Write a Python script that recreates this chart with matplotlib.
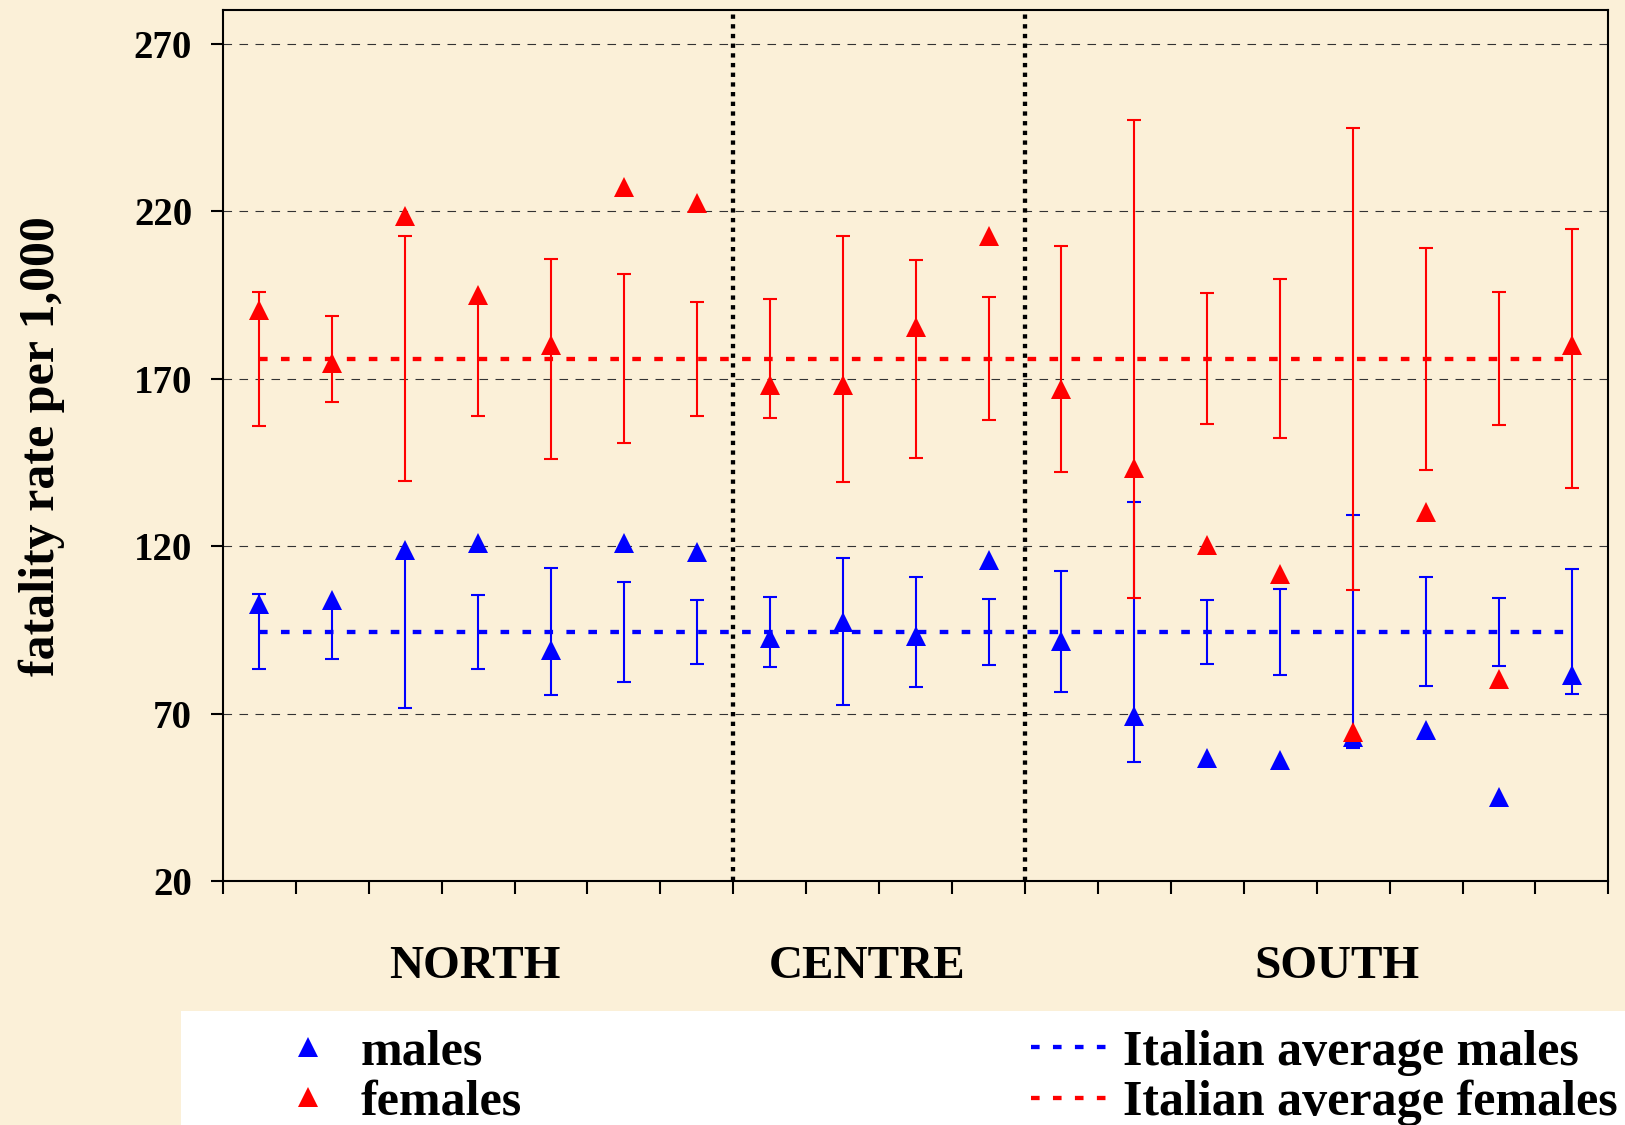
import matplotlib
matplotlib.use('Agg')
import matplotlib.pyplot as plt
import matplotlib.transforms as mtransforms
from matplotlib.lines import Line2D
from matplotlib.patches import Rectangle
from matplotlib.font_manager import FontProperties
import numpy as np

# ---------------- data ----------------
group_sizes = [7, 4, 8]                 # areas per macro-region
regions = ['NORTH', 'CENTRE', 'SOUTH']

males = [102.8, 104.0, 118.9, 121.0, 89.2, 121.0, 118.3,
         92.5, 97.3, 93.1, 116.0,
         91.7, 69.4, 56.8, 56.3, 63.0, 65.1, 45.3, 81.5]
females = [190.6, 174.8, 218.7, 195.0, 180.0, 227.4, 222.4,
           168.1, 168.1, 185.6, 212.6,
           167.0, 143.3, 120.4, 111.6, 64.6, 130.2, 80.4, 180.0]

# half-width of the 95% limits around the Italian average
males_ci = [11.2, 8.0, 22.9, 11.1, 18.9, 14.9, 9.6,
            10.4, 21.9, 16.4, 9.8,
            18.1, 38.8, 9.6, 12.9, 34.8, 16.3, 10.1, 18.7]
females_ci = [20.0, 12.9, 36.6, 17.1, 29.9, 25.2, 17.0,
              17.8, 36.7, 29.6, 18.4,
              33.8, 71.4, 19.5, 23.8, 69.0, 33.2, 19.9, 38.7]

avg_males = 94.5
avg_females = 176.0

yticks = [20, 70, 120, 170, 220, 270]
ylabel = 'fatality rate per 1,000'
legend_labels = ['males', 'females', 'Italian average males', 'Italian average females']

# ---------------- style ----------------
bg = '#FBF0D8'
blue = '#0000FF'
red = '#FF0000'
serif = 'Liberation Serif'

fig = plt.figure(figsize=(16.25, 11.25), dpi=100, facecolor=bg)
ax = fig.add_axes([0.1371, 0.2166, 0.8527, 0.7742])
ax.set_facecolor(bg)

n = len(males)
x = np.arange(n)

# grid
ax.set_ylim(20, 280)
ax.set_xlim(-0.5, n - 0.5)
ax.set_yticks(yticks)
ax.yaxis.grid(True, color='#333333', lw=0.8, linestyle=(0, (7.7, 6.7)), zorder=1)
ax.set_axisbelow(True)

# region separators
bounds = np.cumsum(group_sizes)[:-1] - 0.5
for b in bounds:
    ax.axvline(b, color='black', lw=3.1, linestyle=(0, (1.0, 1.25)),
               dash_capstyle='butt', zorder=2)

# error bars (limits around the national averages)
ax.errorbar(x, [avg_males] * n, yerr=males_ci, fmt='none', ecolor=blue,
            elinewidth=1.5, capsize=5, capthick=1.5, zorder=3)
ax.errorbar(x, [avg_females] * n, yerr=females_ci, fmt='none', ecolor=red,
            elinewidth=1.5, capsize=5, capthick=1.5, zorder=3.1)

# national averages
ax.plot([x[0], x[-1]], [avg_males] * 2, color=blue, lw=3.1,
        dashes=(2.0, 3.1), dash_capstyle='butt', zorder=4)
ax.plot([x[0], x[-1]], [avg_females] * 2, color=red, lw=3.1,
        dashes=(2.0, 3.1), dash_capstyle='butt', zorder=4)

# points
ax.plot(x, males, ls='none', marker='^', ms=15, mew=0, color=blue, zorder=5)
ax.plot(x, females, ls='none', marker='^', ms=15, mew=0, color=red, zorder=5.1)

# axes styling
for s in ax.spines.values():
    s.set_linewidth(1.5)
    s.set_color('black')
ax.set_xticks(np.arange(-0.5, n, 1.0))
ax.set_xticklabels([])
ax.tick_params(axis='x', direction='out', length=9, width=1.5)
ax.tick_params(axis='y', direction='out', length=9, width=1.5, pad=13)
for lab in ax.get_yticklabels():
    lab.set_fontfamily(serif)
    lab.set_fontweight('bold')
    lab.set_fontsize(28)

ax.set_ylabel(ylabel, family=serif, weight='bold', fontsize=36, va='center')
ax.yaxis.set_label_coords(-0.1305, 0.5)

# region names below the axis
region_x = [2.96, 8.34, 14.78]
trans = mtransforms.blended_transform_factory(ax.transData, ax.transAxes)
for name, rx in zip(regions, region_x):
    ax.text(rx, -0.098, name, transform=trans, ha='center', va='center',
            family=serif, weight='bold', fontsize=34)

# white legend band
fig.patches.append(Rectangle((0.1116, 0), 0.8884, 0.1014, transform=fig.transFigure,
                             facecolor='white', edgecolor='none', zorder=0))

handles = [
    Line2D([], [], ls='none', marker='^', ms=15, mew=0, color=blue),
    Line2D([], [], ls='none', marker='^', ms=15, mew=0, color=red),
    Line2D([], [], color=blue, lw=3.1, dashes=(2.0, 3.1), dash_capstyle='butt'),
    Line2D([], [], color=red, lw=3.1, dashes=(2.0, 3.1), dash_capstyle='butt'),
]
fig.legend(handles, legend_labels, ncol=2, loc='upper left',
           bbox_to_anchor=(0.1656, 0.0848), frameon=False,
           prop=FontProperties(family=serif, weight='bold', size=36),
           handlelength=1.56, handletextpad=0.27, columnspacing=10.19,
           labelspacing=0.085, borderpad=0, borderaxespad=0)

fig.savefig('out.png', dpi=100, facecolor=bg)
